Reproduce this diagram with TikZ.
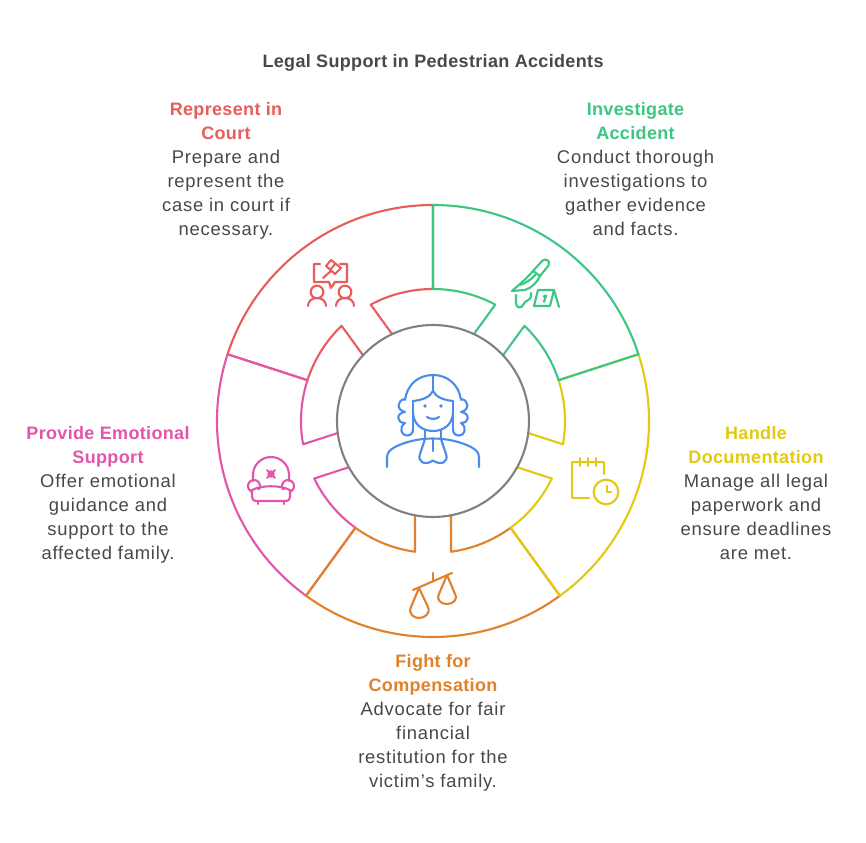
\documentclass[tikz,border=0pt]{standalone}
\usepackage{fontspec}
\setmainfont{Liberation Sans}[Ligatures=ResetAll,LetterSpace=4.2,BoldFeatures={LetterSpace=1.9}]
\definecolor{cred}{HTML}{E85C5C}
\definecolor{cgreen}{HTML}{3CC583}
\definecolor{cyellow}{HTML}{E3C90F}
\definecolor{corange}{HTML}{E0812B}
\definecolor{cpink}{HTML}{E355A8}
\definecolor{cblue}{HTML}{4B8BEA}
\definecolor{cgrey}{HTML}{808080}
\definecolor{ctext}{HTML}{484848}
\tikzset{
 lbl/.style={align=center,font=\fontsize{18.4}{24}\selectfont,text=ctext,inner sep=0pt},
 ring/.style={line width=2.1pt,line join=round},
 icon/.style={line width=2.1pt,line join=round,line cap=round},
 px/.style={shift={(0,842)},yscale=-1},
}
\newcommand{\ttl}[2]{{\color{#1}\fontsize{18}{24}\selectfont\bfseries #2}}
\begin{document}
\begin{tikzpicture}[x=1pt,y=1pt]
\useasboundingbox (0,0) rectangle (866,842);
\fill[white] (0,0) rectangle (866,842);
\node[font=\fontsize{18}{24}\selectfont\bfseries,text=ctext,inner sep=0pt] (title) at (433,779) {Legal Support in Pedestrian Accidents};
\begin{scope}[shift={(433,421)}]
\foreach \col/\a in {cred/162,cpink/234,corange/306,cyellow/18,cgreen/90}{
  \pgfmathsetmacro\b{\a-72}
  \pgfmathsetmacro\mA{\a-36+7.84}
  \pgfmathsetmacro\mB{\a-36-7.84}
  \pgfmathsetmacro\cA{\a-36+10.8}
  \pgfmathsetmacro\cB{\a-36-10.8}
  \draw[ring,\col] (\cA:96) -- (\mA:132) arc[start angle=\mA,end angle=\a,radius=132pt]
    -- (\a:216) arc[start angle=\a,end angle=\b,radius=216pt]
    -- (\b:132) arc[start angle=\b,end angle=\mB,radius=132pt] -- (\cB:96);
}
\end{scope}
\node[circle,draw=cgrey,fill=white,line width=2.1pt,minimum size=192pt,inner sep=0pt] (hub) at (433,421) {};
\node[lbl] (court) at (226,671) {\ttl{cred}{Represent in}\\\ttl{cred}{Court}\\Prepare and\\represent the\\case in court if\\necessary.};
\node[lbl] (invest) at (635.5,673) {\ttl{cgreen}{Investigate}\\\ttl{cgreen}{Accident}\\Conduct thorough\\investigations to\\gather evidence\\and facts.};
\node[lbl] (docs) at (756,349) {\ttl{cyellow}{Handle}\\\ttl{cyellow}{Documentation}\\Manage all legal\\paperwork and\\ensure deadlines\\are met.};
\node[lbl] (emo) at (108,347) {\ttl{cpink}{Provide Emotional}\\\ttl{cpink}{Support}\\Offer emotional\\guidance and\\support to the\\affected family.};
\node[lbl] (comp) at (433,119) {\ttl{corange}{Fight for}\\\ttl{corange}{Compensation}\\Advocate for fair\\financial\\restitution for the\\victim's family.};
\begin{scope}[px,icon]
% judge
\begin{scope}[cblue]
\draw (405,400) .. controls (407,385) and (418,375) .. (433,375) .. controls (448,375) and (459,385) .. (461,400);
\draw (433,375) -- (433,391);
\draw (413,401) .. controls (423,400) and (430,397) .. (433,391) .. controls (436,397) and (443,400) .. (453,401);
\draw (413,401) -- (413,430) (453,401) -- (453,430);
\draw (413,412) .. controls (413,424) and (422,431) .. (433,431) .. controls (444,431) and (453,424) .. (453,412);
\fill (425,406) circle (1.8pt) (441,406) circle (1.8pt);
\draw (427,417) .. controls (430,419.5) and (436,419.5) .. (439,417);
\draw (405,399) .. controls (397,400) and (396,410) .. (405,412) .. controls (396,413) and (396,423) .. (405,423) .. controls (398,428) and (402,436) .. (407,435.5) .. controls (411,435.5) and (413,433) .. (413,429);
\draw (461,399) .. controls (469,400) and (470,410) .. (461,412) .. controls (470,413) and (470,423) .. (461,423) .. controls (468,428) and (464,436) .. (459,435.5) .. controls (455,435.5) and (453,433) .. (453,429);
\draw (425,430) -- (425,439) (441,430) -- (441,439);
\draw (387,467) -- (387,458) .. controls (387,452) and (390,450) .. (395,447) .. controls (405,442) and (418,438.5) .. (433,438.5) .. controls (448,438.5) and (461,442) .. (471,447) .. controls (476,450) and (479,452) .. (479,458) -- (479,467);
\draw (425,439) -- (420,454) .. controls (417,462) and (425,466) .. (433,460.5) .. controls (441,466) and (449,462) .. (446,454) -- (441,439);
\draw (433,439) -- (433,451);
\end{scope}
% knife
\begin{scope}[cgreen]
\draw (512,291) .. controls (520,284) and (528,277) .. (533,271) -- (542,261) .. controls (545,258) and (551,260) .. (548.5,265.5) -- (540,276) -- (533,271);
\draw (512,291) -- (525,290) .. controls (531,288) and (537,283) .. (540,276);
\draw (520,285) .. controls (526,283) and (532,279) .. (536,274);
\draw (516,295) -- (516,303) .. controls (516,308) and (521,309) .. (523,305) .. controls (525,299) and (532,302) .. (531,293);
\draw (538,290) -- (554,290) -- (550,306) -- (534,306) -- cycle;
\draw (554,290) -- (559,307);
\draw (543.5,296.5) -- (546,295.5) -- (544,302);
\end{scope}
% court
\begin{scope}[cred]
\draw (320,264) -- (314,264) -- (314,282) -- (329,282) -- (331,288) -- (335,282) -- (347,282) -- (347,264) -- (340,264);
\draw (331,260) -- (326,266) -- (335,274) -- (341,268) -- cycle;
\draw (335,264) -- (330,270);
\draw (331,271) -- (323,278);
\draw (317,292) circle (6.3pt) (345,292) circle (6.3pt);
\draw (308,306) .. controls (308,301) and (312,298) .. (317,298) .. controls (322,298) and (326,301) .. (326,306);
\draw (336,306) .. controls (336,301) and (340,298) .. (345,298) .. controls (350,298) and (354,301) .. (354,306);
\end{scope}
% armchair
\begin{scope}[cpink]
\draw (253,481) -- (253,475) .. controls (253,465) and (261,457) .. (271,457) .. controls (281,457) and (289,465) .. (289,475) -- (289,481);
\draw (254,486) circle (6pt) (288,486) circle (6pt);
\fill[white] (252.5,490) rectangle (289.5,500);
\draw (252,490) .. controls (262,485) and (280,485) .. (290,490) (252,490) -- (252,497) .. controls (252,500) and (254,501) .. (256,501) -- (286,501) .. controls (288,501) and (290,500) .. (290,497) -- (290,490);
\draw (258,501) -- (258,504) (284,501) -- (284,504);
\draw (271,471) -- (274,474) -- (271,477) -- (268,474) -- cycle;
\draw (267,470) -- (275,478) (275,470) -- (267,478);
\end{scope}
% scales
\begin{scope}[corange]
\draw (413,590) -- (452,573);
\draw (433,573) -- (433,581);
\draw (419,588) -- (411,607) .. controls (408,614) and (414,618) .. (419,618) .. controls (424,618) and (431,614) .. (428,607) -- cycle;
\draw (447,575) -- (439,594) .. controls (436,600) and (441,604) .. (447,604) .. controls (453,604) and (458,600) .. (455,594) -- cycle;
\end{scope}
% calendar
\begin{scope}[cyellow]
\draw (589,498) -- (572,498) -- (572,462) -- (604,462) -- (604,474);
\draw (580,458) -- (580,466) (588,458) -- (588,466) (596,458) -- (596,466);
\draw (606,492) circle (12.3pt);
\draw (607,486) -- (607,492) -- (611,492);
\end{scope}
\end{scope}
\end{tikzpicture}
\end{document}
